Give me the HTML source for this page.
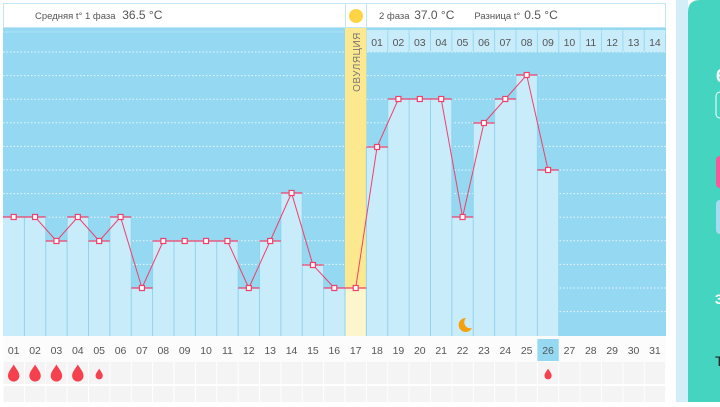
<!DOCTYPE html>
<html><head><meta charset="utf-8"><style>
body{margin:0;width:720px;height:402px;overflow:hidden;background:#fff;font-family:"Liberation Sans","DejaVu Sans",sans-serif}
</style></head><body>
<svg id="s" width="720" height="402" xmlns="http://www.w3.org/2000/svg" font-family="Liberation Sans, DejaVu Sans, sans-serif"></svg>
<script>
const s=document.getElementById('s');let h='';
const W=21.375,X0=3;const cx=i=>X0+(i-1)*W;
const pts=[217,217,241,217,241,217,288,241,241,241,241,288,241,193,265,288,288,147,99,99,99,217,123,99,75,170];
// backgrounds
h+='<rect x="0" y="0" width="667" height="402" fill="#fff"/>';
h+='<rect x="3" y="28" width="663" height="308" fill="#94d8f2"/>';
// grid
for(let y=52;y<=312;y+=23.6)h+=`<line x1="3" x2="666" y1="${y.toFixed(1)}" y2="${y.toFixed(1)}" stroke="#fff" stroke-opacity=".8" stroke-dasharray="1.5 2"/>`;
h+=`<line x1="3" x2="666" y1="32" y2="32" stroke="#fff" stroke-opacity=".5" stroke-dasharray="1 1"/>`;
// bars
for(let i=1;i<=26;i++){const y=pts[i-1];
 if(i==17){h+=`<rect x="${cx(i)}" y="28" width="${W}" height="308" fill="#fce98f"/><rect x="${cx(i)}" y="${y}" width="${W}" height="${336-y}" fill="#fdf5cc"/>`;continue;}
 h+=`<rect x="${cx(i)}" y="${y}" width="${W}" height="${336-y}" fill="#c9ecfb"/>`;}
for(let i=2;i<=27;i++)h+=`<line x1="${cx(i)}" x2="${cx(i)}" y1="${i==27?170:Math.min(pts[i-1]||336,pts[i-2])}" y2="336" stroke="#8fd3ef" stroke-width="1"/>`;
// phase2 header
for(let i=18;i<=31;i++){h+=`<rect x="${cx(i)+0.5}" y="30" width="${W-1}" height="22" fill="#c9ecfb"/><text x="${cx(i)+W/2}" y="46" font-size="10.5" fill="#555" text-anchor="middle">${String(i-17).padStart(2,'0')}</text>`;}
h+='<text transform="translate(360,62) rotate(-90)" font-size="10" fill="#777" text-anchor="middle" letter-spacing=".5">ОВУЛЯЦИЯ</text>';
// line
let d='';pts.forEach((y,k)=>{d+=(k?'L':'M')+(cx(k+1)+W/2)+' '+y});
pts.forEach((y,k)=>{h+=`<line x1="${cx(k+1)}" x2="${cx(k+2)}" y1="${y}" y2="${y}" stroke="#f0406a" stroke-width="1.2"/>`});
h+=`<path d="${d}" fill="none" stroke="#f0406a" stroke-width="1"/>`;
pts.forEach((y,k)=>{h+=`<rect x="${cx(k+1)+W/2-2.5}" y="${y-2.5}" width="5" height="5" fill="#fff" stroke="#f0406a" stroke-width="1.2"/>`});
// moon
h+='<path d="M466 318 a7 7 0 1 0 6 10 a6 6 0 0 1 -6 -10z" fill="#f5a00c"/>';
// header
h+='<rect x="3.5" y="3.5" width="662" height="24" fill="#fff" stroke="#bfe6f6"/>';
h+='<line x1="345.5" x2="345.5" y1="3" y2="28" stroke="#bfe6f6"/><line x1="366.5" x2="366.5" y1="3" y2="28" stroke="#bfe6f6"/>';
h+='<circle cx="356" cy="16" r="7" fill="#fdd445"/>';
h+='<text x="35" y="19" font-size="9.5" fill="#555">Средняя t° 1 фаза <tspan font-size="12" dx="4">36.5 °C</tspan></text>';
h+='<text x="379" y="19" font-size="9.5" fill="#555">2 фаза <tspan font-size="12" dx="2">37.0 °C</tspan><tspan dx="20" font-size="9.5">Разница t°</tspan><tspan font-size="12" dx="4">0.5 °C</tspan></text>';
// bottom
h+='<rect x="3" y="336" width="663" height="26" fill="#fcfcfc"/>';
for(let i=1;i<=31;i++){
 if(i==26)h+=`<rect x="${cx(i)}" y="339" width="${W}" height="22" fill="#94d8f2"/>`;
 h+=`<text x="${cx(i)+W/2}" y="354" font-size="10.5" fill="#555" text-anchor="middle">${String(i).padStart(2,'0')}</text>`;
 h+=`<rect x="${cx(i)+0.5}" y="362" width="${W-1}" height="22" fill="#f4f4f4"/><rect x="${cx(i)+0.5}" y="386" width="${W-1}" height="16" fill="#f4f4f4"/>`;}
const drop=(x,y,sc)=>`<path transform="translate(${x},${y}) scale(${sc})" d="M0 -9 C3 -4 6 -1 6 3 A6 6 0 0 1 -6 3 C-6 -1 -3 -4 0 -9z" fill="#f5404e"/>`;
[1,2,3,4].forEach(i=>h+=drop(cx(i)+W/2,373,0.95));
h+=drop(cx(5)+W/2,374,0.6);h+=drop(cx(26)+W/2,374,0.6);
// right panel
h+='<rect x="676" y="0" width="12" height="402" fill="#d3eef9"/>';
h+='<path d="M688 402 V12 Q688 0 700 0 H720 V402z" fill="#44d4c0"/>';
h+='<text x="716" y="82" font-size="18" fill="#fff" font-weight="bold">6</text>';
h+='<rect x="716" y="92" width="10" height="26" rx="4" fill="none" stroke="#fff"/>';
h+='<rect x="716" y="156" width="10" height="32" rx="4" fill="#f45a9a"/>';
h+='<rect x="716" y="200" width="10" height="34" rx="4" fill="#a5dcf2"/>';
h+='<text x="715" y="304" font-size="14" fill="#fff" font-weight="bold">3</text>';
h+='<text x="715" y="366" font-size="14" fill="#222">T</text>';
s.innerHTML=h;
</script>
</body></html>
